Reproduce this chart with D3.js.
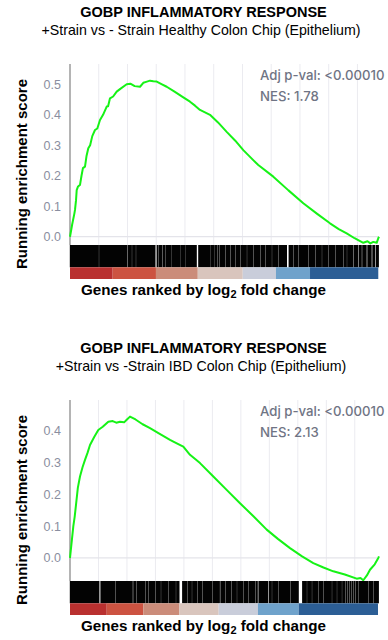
<!DOCTYPE html>
<html><head><meta charset="utf-8">
<script src="https://cdn.jsdelivr.net/npm/d3@7"></script>
<style>
html,body{margin:0;padding:0;background:#fff;}
svg{display:block;}
</style></head>
<body>
<svg id="chart" width="388" height="640"></svg>
<script>
// ---------- data ----------
const geneSetName = "GOBP INFLAMMATORY RESPONSE";
const comparisons = [
  "+Strain vs - Strain Healthy Colon Chip (Epithelium)",
  "+Strain vs -Strain IBD Colon Chip (Epithelium)"
];
const adjPvalLabels = ["<0.00010", "<0.00010"];
const nesValues = [1.78, 2.13];
const rankedGeneCounts = [21500, 21700];
const scoreRanges = [[-0.0272, 0.5666], [-0.0724, 0.4962]];
const scoreTicks = [[0, 0.1, 0.2, 0.3, 0.4, 0.5], [0, 0.1, 0.2, 0.3, 0.4]];
const rankTickStep = 2000;

// running enrichment score: [gene rank, score]
const runningScoreHealthy = [
  [0,0],[150,0.04],[300,0.075],[348,0.088],[420,0.12],[466,0.153],[560,0.165],[696,0.17],
  [800,0.2],[900,0.225],[1044,0.23],[1150,0.265],[1273,0.29],[1400,0.3],[1550,0.33],[1740,0.35],
  [1900,0.355],[2087,0.383],[2300,0.4],[2554,0.427],[2650,0.428],[2783,0.454],[3000,0.46],
  [3249,0.476],[3500,0.485],[3945,0.5],[4200,0.502],[4500,0.494],[4871,0.492],[5100,0.505],
  [5300,0.508],[5566,0.512],[5800,0.51],[6033,0.509],[6400,0.5],[6729,0.492],[7300,0.475],
  [7884,0.457],[8350,0.443],[8700,0.43],[9045,0.416],[9741,0.4],[10300,0.375],[10903,0.344],
  [11500,0.315],[12058,0.284],[13100,0.235],[14146,0.197],[15200,0.152],[16233,0.11],
  [17200,0.075],[18091,0.044],[18700,0.025],[19252,0.011],[19800,-0.005],[20408,-0.02],
  [20700,-0.015],[20900,-0.022],[21104,-0.017],[21340,-0.02],[21450,-0.005],[21500,0]
];
const runningScoreIBD = [
  [0,0],[232,0.099],[330,0.13],[421,0.167],[550,0.22],[702,0.256],[880,0.285],[1053,0.308],
  [1230,0.33],[1405,0.355],[1700,0.38],[1987,0.402],[2300,0.412],[2690,0.428],[3000,0.43],
  [3250,0.425],[3511,0.428],[3800,0.426],[3982,0.434],[4214,0.444],[4600,0.435],[5100,0.42],
  [5618,0.408],[6300,0.39],[7023,0.371],[7500,0.36],[7957,0.35],[8427,0.324],[9130,0.298],
  [10064,0.256],[11000,0.214],[11939,0.172],[12900,0.13],[13814,0.089],[14600,0.06],
  [15450,0.031],[16300,0.005],[17087,-0.016],[17800,-0.03],[18491,-0.042],[19300,-0.052],
  [20134,-0.065],[20400,-0.063],[20598,-0.07],[20850,-0.055],[21068,-0.037],[21400,-0.02],
  [21652,0],[21700,0.005]
];

// runs of gene-set hits along the ranked list: [first rank, last rank]
const hitRunsHealthy = [
  [0,1997],[2039,3987],[4036,4293],[4335,4571],[4613,5935],[6039,6151],[6193,6415],[6457,6603],
  [6645,7069],[7111,7696],[7737,7988],[8029,8809],[8934,9783],[9825,10006],[10047,10256],
  [10298,10395],[10437,10785],[10827,11132],[11175,11481],[11522,11829],[11870,12295],
  [12337,12761],[12803,13220],[13262,13568],[13610,14034],[14076,14500],[14542,15085],
  [15224,15544],[15586,15892],[15934,16588],[16630,17047],[17089,17513],[17555,17980],
  [18021,18438],[18480,19023],[19065,19253],[19294,19712],[19761,20060],[20122,20290],
  [20345,20630],[20700,20978],[21048,21208],[21277,21479]
];
const hitRunsIBD = [
  [0,2051],[2149,3160],[3202,4396],[4453,4635],[4677,5267],[5309,5506],[5548,5970],[6012,6370],
  [6412,6911],[6953,7423],[7465,7676],[7887,8245],[8287,8547],[8589,8947],[8989,9298],
  [9341,10001],[10043,10513],[10570,10886],[10928,11307],[11349,11707],[11749,12178],
  [12220,12529],[12571,12993],[13035,13175],[13245,13920],[13990,14165],[14207,14636],
  [14678,15451],[15493,16054],[16314,16623],[16665,16975],[17017,17445],[17487,17796],
  [17838,18379],[18421,18730],[18772,19082],[19124,19313],[19355,19454],[19496,19594],
  [19636,19735],[19777,19875],[19917,20016],[20058,20255],[20297,20957],[20999,21308],
  [21350,21680]
];

// log2 fold-change bands of the ranked list: boundaries (ranks) and band level
const foldChangeBandsHealthy = [0, 2970, 5980, 8890, 12020, 14330, 16700, 21450];
const foldChangeBandsIBD = [0, 2580, 5150, 7680, 10440, 13200, 16060, 21630];
const foldChangeBandLevels = [2.5, 1.5, 0.8, 0.25, -0.25, -0.8, -2.0];
const bandPalette = ["#b9302f", "#cc5341", "#cb8c7a", "#d9c5bd", "#c9cdda", "#6fa2cb", "#2c5e95"];

// ---------- drawing ----------
const svg = d3.select("#chart");
const left = 70, right = 379;
const plotH = 181, barcodeH = 22.3, bandH = 11.7;
const panelTops = [64, 400];
const titleFont = "'Liberation Sans', Arial, sans-serif";
const bandColor = d3.scaleOrdinal(foldChangeBandLevels, bandPalette);
const hitPad = 0.2; // slight overlap so narrow gaps read as grey streaks

const panels = [
  {curve: runningScoreHealthy, hits: hitRunsHealthy, bands: foldChangeBandsHealthy},
  {curve: runningScoreIBD, hits: hitRunsIBD, bands: foldChangeBandsIBD}
];

panels.forEach((p, i) => {
  const top = panelTops[i];
  const bottom = top + plotH;
  const n = rankedGeneCounts[i];
  const x = d3.scaleLinear().domain([0, n]).range([left, right]);
  const y = d3.scaleLinear().domain(scoreRanges[i]).range([bottom, top]);
  const g = svg.append("g");

  // titles
  g.append("text").attr("x", 203.5).attr("y", top - 47.5)
    .attr("text-anchor", "middle").attr("font-family", titleFont)
    .attr("font-weight", "bold").attr("font-size", 14.5).attr("fill", "#000")
    .text(geneSetName);
  g.append("text").attr("x", 201).attr("y", top - 29.3)
    .attr("text-anchor", "middle").attr("font-family", titleFont)
    .attr("font-size", 14.2).attr("fill", "#000")
    .text(comparisons[i]);

  // vertical grid lines
  const gridTicks = d3.range(rankTickStep, n, rankTickStep);
  g.append("g").selectAll("line").data(gridTicks).join("line")
    .attr("x1", d => x(d)).attr("x2", d => x(d))
    .attr("y1", top).attr("y2", bottom)
    .attr("stroke", "#ebebf0").attr("stroke-width", 1);

  // zero line
  g.append("line").attr("x1", left).attr("x2", right)
    .attr("y1", y(0)).attr("y2", y(0))
    .attr("stroke", "#e4e4ea").attr("stroke-width", 1.3);

  // y axis
  const yAxis = d3.axisLeft(y).tickValues(scoreTicks[i]).tickFormat(d3.format(".1f"))
    .tickSize(0).tickPadding(9);
  const ya = g.append("g").attr("transform", `translate(${left},0)`).call(yAxis);
  ya.select(".domain").remove();
  ya.selectAll("text").attr("font-family", titleFont).attr("font-size", 12.5)
    .attr("fill", "#8a8ea0");
  g.append("line").attr("x1", left).attr("x2", left).attr("y1", top).attr("y2", bottom)
    .attr("stroke", "#8c8c8c").attr("stroke-width", 1.3);

  // running enrichment score
  const line = d3.line().x(d => x(d[0])).y(d => y(d[1]));
  g.append("path").datum(p.curve).attr("d", line)
    .attr("fill", "none").attr("stroke", "#16f216").attr("stroke-width", 2)
    .attr("stroke-linejoin", "round");

  // hit barcode
  g.append("g").selectAll("rect").data(p.hits).join("rect")
    .attr("x", d => x(d[0]) - hitPad)
    .attr("width", d => Math.max(0.6, x(d[1]) - x(d[0])) + 2 * hitPad)
    .attr("y", bottom).attr("height", barcodeH)
    .attr("fill", "#030303");

  // fold-change colour bar
  const bandData = foldChangeBandLevels.map((lv, k) => ({lv, a: p.bands[k], b: p.bands[k + 1]}));
  g.append("g").selectAll("rect").data(bandData).join("rect")
    .attr("x", d => x(d.a)).attr("width", d => x(d.b) - x(d.a))
    .attr("y", bottom + barcodeH).attr("height", bandH)
    .attr("fill", d => bandColor(d.lv));

  // statistics
  const statFont = "Inter, 'Noto Sans', sans-serif";
  g.append("text").attr("x", 260).attr("y", top + 15.6)
    .attr("font-family", statFont).attr("font-size", 13.2).attr("font-weight", 500)
    .attr("fill", "#6f7484").text("Adj p-val: " + adjPvalLabels[i]);
  g.append("text").attr("x", 260).attr("y", top + 36.8)
    .attr("font-family", statFont).attr("font-size", 13.2).attr("font-weight", 500)
    .attr("fill", "#6f7484").text("NES: " + d3.format(".2f")(nesValues[i]));

  // axis titles
  g.append("text")
    .attr("transform", `translate(26.5,${top + 110}) rotate(-90)`)
    .attr("text-anchor", "middle").attr("font-family", titleFont)
    .attr("font-weight", "bold").attr("font-size", 15).attr("fill", "#000")
    .text("Running enrichment score");
  const xt = g.append("text").attr("x", 203.5).attr("y", top + 230.5)
    .attr("text-anchor", "middle").attr("font-family", titleFont)
    .attr("font-weight", "bold").attr("font-size", 15.2).attr("fill", "#000");
  xt.append("tspan").text("Genes ranked by log");
  xt.append("tspan").attr("font-size", 11).attr("dy", 3).text("2");
  xt.append("tspan").attr("dy", -3).text(" fold change");
});
</script>
</body></html>
